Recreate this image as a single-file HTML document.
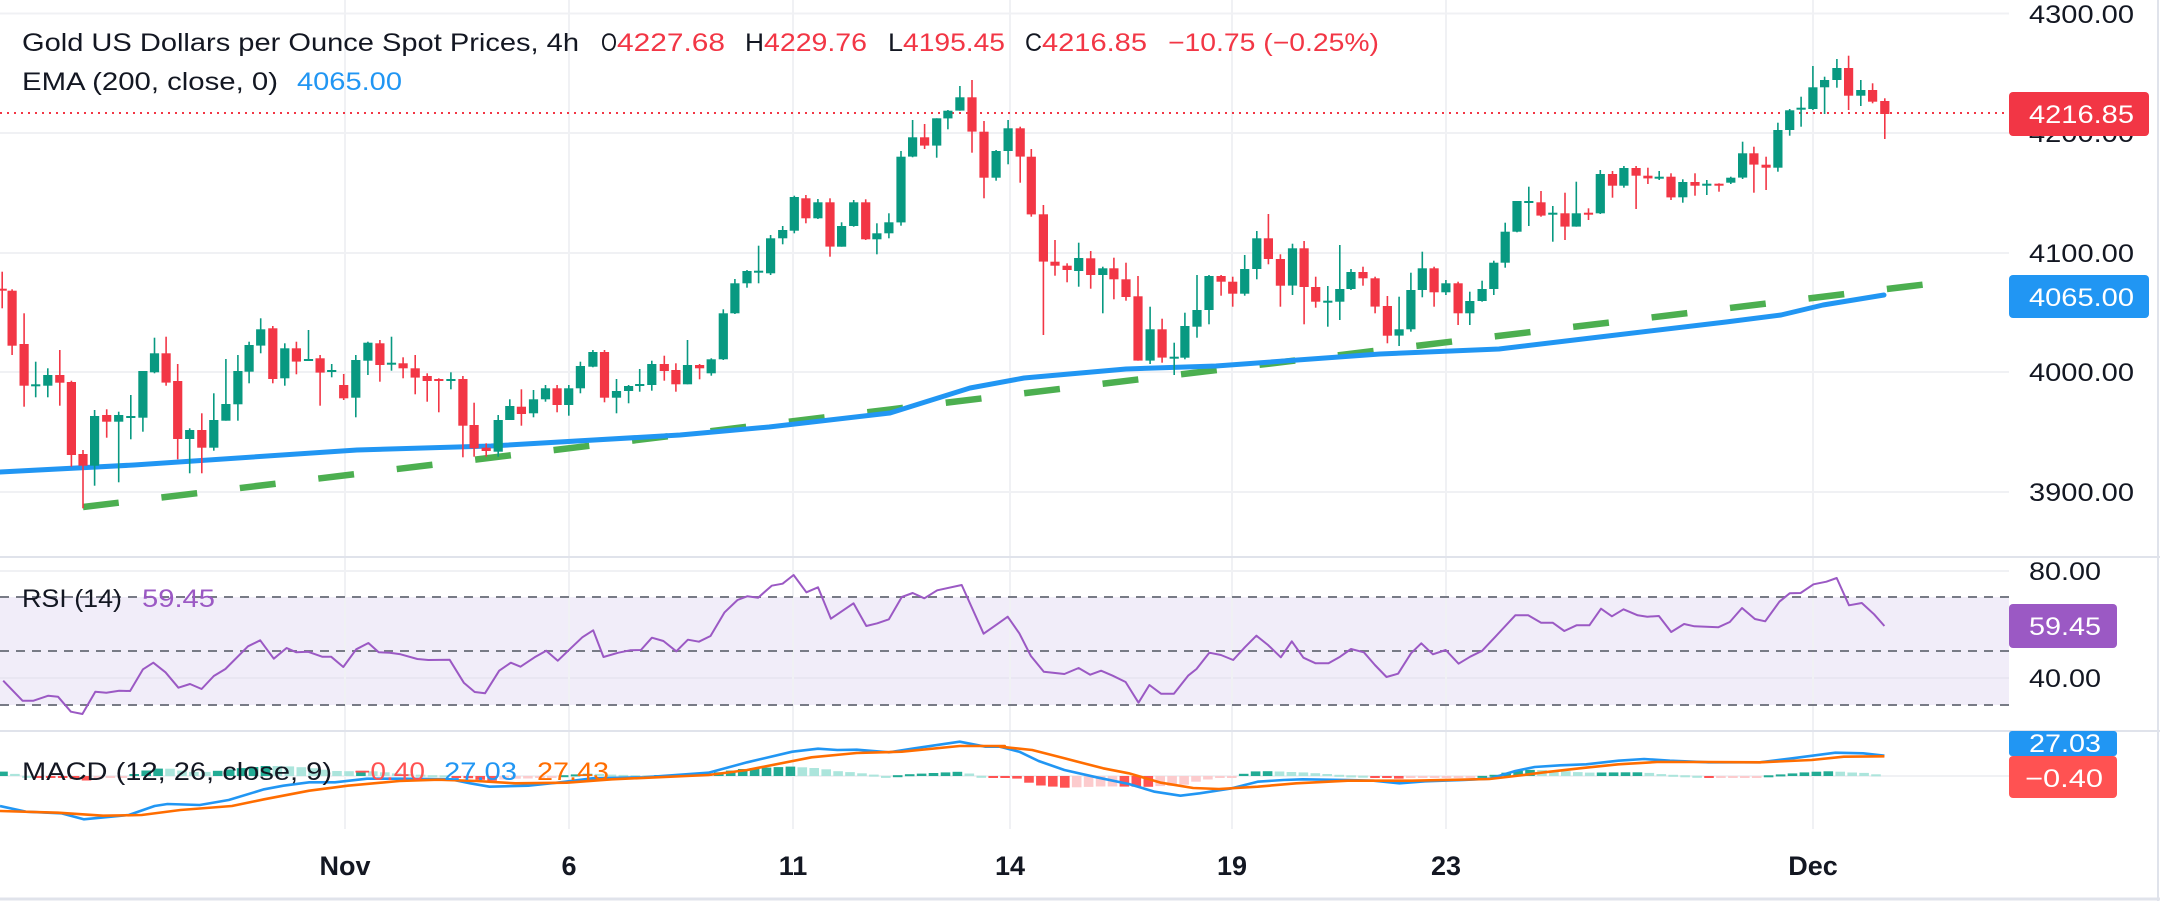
<!DOCTYPE html>
<html><head><meta charset="utf-8">
<style>
html,body{margin:0;padding:0;background:#fff;}
svg{display:block;}
text{font-family:"Liberation Sans","DejaVu Sans",sans-serif;}
</style></head>
<body>
<svg id="s" xmlns="http://www.w3.org/2000/svg" width="2160" height="901" viewBox="0 0 2160 901">
<rect x="0" y="0" width="2160" height="901" fill="#fff"/>
</svg>
<script>
(function(){
var S=document.getElementById('s');
var out='';
function L(x1,y1,x2,y2,c,w,extra){out+='<line x1="'+x1+'" y1="'+y1+'" x2="'+x2+'" y2="'+y2+'" stroke="'+c+'" stroke-width="'+w+'" '+(extra||'')+'/>';}
function R(x,y,w,h,c,extra){out+='<rect x="'+x+'" y="'+y+'" width="'+w+'" height="'+h+'" fill="'+c+'" '+(extra||'')+'/>';}
function T(x,y,s,c,txt,extra){out+='<text x="'+x+'" y="'+y+'" font-size="'+s+'" fill="'+c+'" '+(extra||'')+'>'+txt+'</text>';}
var PR=2009;
R(0,597,PR,108,'#f1edf9');
[13.5,133,253,372,492].forEach(function(y){L(0,y,PR,y,'#f0f1f4',2);});
L(0,571,PR,571,'#f0f1f4',2);L(0,678,PR,678,'#e9e6f2',2);L(0,776,PR,776,'#f0f1f4',2);
[345,569,793,1010,1232,1446,1813].forEach(function(x){L(x,0,x,829,'#f0f1f4',2);});
L(0,557,2160,557,'#e0e3eb',2);L(0,731,2160,731,'#e0e3eb',2);L(0,899,2160,899,'#e0e3eb',3);
L(2158,0,2158,901,'#e0e3eb',2);
[597,651,705].forEach(function(y){L(0,y,PR,y,'#787b86',2,'stroke-dasharray="9 7"');});
L(0,113,PR,113,'#f23645',2,'stroke-dasharray="2 5"');
L(83,507,1953,281,'#4caf50',6.5,'stroke-dasharray="36 43"');
var ema=[[0,472],[134,465],[357,450],[491,446],[680,435],[769,427],[890,413],[970,388],[1024,378],[1126,369],[1216,366],[1380,354],[1499,349],[1591,338],[1726,322],[1781,315],[1823,305],[1884,295]];
out+='<polyline points="'+ema.map(function(p){return p.join(',')}).join(' ')+'" fill="none" stroke="#2196f3" stroke-width="5" stroke-linejoin="round" stroke-linecap="round"/>';

var secs=[
{x0:0,sx:2.24,y0:60,d:[[5,686,692,635,745],[27,692,857,688,885],[54,852,977,760,1040],[80,973,973,905,1012],[107,977,945,925,1012],[134,945,968,870,1037],[160,966,1185,962,1220],[186,1182,1217,1170,1345],[212,1217,1068,1050,1277],[239,1065,1085,1048,1133],[266,1085,1065,1055,1267],[293,1068,1068,1005,1138],[320,1073,933,933,1115],[346,937,880,833,940],[372,880,968,830,977],[398,963,1137,912,1198],[425,1137,1110,1105,1240],[452,1110,1163,1060,1240],[479,1163,1080,1000,1172],[506,1082,1032,897,1082],[533,1033,933,885,1082],[558,935,855,845,970],[584,857,808,775,880],[611,805,957,798,970],[638,955,865,850,977],[664,865,905,845,943],[691,903,897,810,903],[717,895,938,885,1037],[743,930,930,912,952],[770,975,1015,942,1020],[797,1013,900,885,1072],[824,902,848,845,945],[851,850,915,840,965],[877,908,908,830,932],[903,910,925,892,955],[930,925,953,885,1003],[957,948,963,940,1025],[983,957,960,955,1057],[1010,957,957,937,988],[1037,957,1097,948,1192],[1062,1095,1165,1028,1190],[1089,1163,1173,1150,1190],[1116,1175,1080,1065,1190],[1142,1080,1038,1018,1080],[1168,1040,1062,988,1097],[1195,1060,1018,990,1072],[1222,1018,985,975,1025],[1248,985,1035,975,1057],[1274,1035,985,975,1067],[1300,985,918,905,1000],[1328,920,876,870,922],[1354,876,1013,870,1027],[1381,1013,993,957,1060],[1408,993,978,975,1030],[1433,972,972,927,995],[1460,975,912,902,992],[1488,912,933,887,962],[1514,930,973,910,995],[1540,973,915,840,973]]},
{x0:680,sx:2.24,y0:60,d:[[44,915,925,912,958],[70,940,898,895,947],[97,898,760,748,900],[123,760,670,657,762],[150,670,633,630,683],[176,632,632,557,670],[203,640,535,525,645],[230,535,510,498,553],[256,512,411,407,520],[282,415,475,405,490],[309,475,427,417,477],[336,427,560,415,590],[362,560,498,487,560],[389,498,427,420,500],[416,427,538,418,540],[441,538,520,490,583],[468,520,487,460,535],[495,487,290,273,497],[521,290,232,180,292],[548,232,257,192,267],[575,257,175,175,293],[600,175,152,150,208],[627,152,112,78,152],[654,112,215,60,278],[681,215,353,183,415],[708,353,273,270,362],[735,273,205,180,313],[762,205,290,200,368],[787,290,463,267,470],[814,463,605,435,825],[840,605,617,540,647],[867,617,630,610,667],[893,633,594,548,680],[920,595,645,573,686],[947,645,625,620,760],[972,625,658,593,718],[999,658,711,608,722],[1026,709,902,648,902],[1053,902,808,740,912],[1080,808,893,776,908],[1107,890,890,848,945],[1131,893,798,758,898],[1158,800,750,645,833],[1185,750,648,645,793],[1212,648,665,645,707],[1238,665,701,650,740],[1265,701,627,585,707],[1292,627,535,513,658],[1318,535,597,462,613],[1345,597,677,583,740],[1372,677,565,551,705],[1398,565,681,543,793],[1424,681,725,650,743],[1451,722,722,678,800],[1478,725,687,555,780],[1503,687,636,627,690],[1530,636,655,620,677],[1557,655,740,650,760]]},
{x0:1360,sx:2.376,y0:40,d:[[65,798,887,768,910],[93,887,868,770,918],[121,868,750,698,875],[148,750,685,635,772],[176,685,757,680,800],[204,757,730,720,765],[233,730,820,725,855],[261,820,783,755,855],[290,783,747,722,785],[318,747,668,662,765],[345,668,575,548,683],[373,575,483,483,577],[401,483,483,440,558],[430,487,527,453,530],[458,518,518,498,605],[487,520,560,458,600],[514,560,520,425,560],[543,518,520,505,540],[571,520,402,390,522],[600,402,437,393,473],[627,437,384,378,443],[656,384,407,378,507],[684,407,415,383,432],[711,410,410,393,420],[739,410,472,400,480],[767,472,426,418,488],[796,426,437,400,467],[824,431,431,420,465],[853,431,432,430,455],[881,428,413,410,432],[909,413,340,305,417],[936,340,374,320,458],[965,374,383,350,450],[993,383,270,248,395],[1021,270,211,207,287],[1048,203,203,170,260],[1076,207,142,78,210],[1104,142,120,110,222],[1133,120,84,57,143],[1161,84,167,47,210],[1190,167,150,120,198],[1218,150,185,130,190],[1247,183,222,175,297]]}
];
secs.forEach(function(s){s.d.forEach(function(c){
 var x=s.x0+c[0]/s.sx, o=s.y0+c[1]/3, cl=s.y0+c[2]/3, h=s.y0+c[3]/3, l=s.y0+c[4]/3;
 var col=(cl>o)?'#f23645':'#089981';
 L(x.toFixed(1),h.toFixed(1),x.toFixed(1),l.toFixed(1),col,1.6);
 var t=Math.min(o,cl), bh=Math.max(Math.abs(o-cl),2);
 R((x-4.6).toFixed(1),t.toFixed(1),9.2,bh.toFixed(1),col);
});});

function tr(arr,x0){return arr.map(function(p){return (x0+p[0]/1.5525).toFixed(1)+','+(550+p[1]/3).toFixed(1);});}
var r6=[[5,392],[35,452],[52,452],[75,437],[90,440],[110,485],[128,492],[148,425],[165,428],[185,422],[202,423],[222,358],[238,338],[257,367],[277,413],[295,402],[313,417],[332,378],[350,357],[385,289],[404,271],[425,326],[445,294],[460,307],[478,305],[500,320],[514,320],[533,351],[553,298],[572,279],[588,307],[605,308],[622,313],[648,327],[665,330],[698,329],[720,398],[737,426],[753,430],[775,362],[793,338],[808,350],[830,322],[848,302],[866,332],[886,295],[904,262],[921,241],[937,321],[960,308],[978,301],[995,300],[1012,263],[1030,273],[1050,304],[1068,269],[1085,275],[1103,258],[1125,187],[1145,150],[1160,139],[1177,143],[1198,107],[1215,101],[1232,75],[1252,127],[1270,112],[1290,206],[1325,160],[1345,228],[1362,220],[1380,208],[1400,141],[1417,129],[1435,145],[1455,121],[1493,105],[1527,251],[1550,220]];
var r7=[[12,200],[30,250],[48,318],[68,365],[100,372],[122,354],[140,374],[157,362],[175,377],[195,396],[215,458],[232,405],[250,431],[270,431],[292,377],[305,357],[325,308],[343,315],[362,330],[380,292],[398,257],[416,285],[436,322],[453,274],[471,323],[490,340],[510,340],[528,320],[545,297],[565,307],[582,345],[600,381],[618,371],[638,310],[654,280],[672,313],[692,300],[712,341],[730,320],[748,303],[770,258],[800,196],[820,196],[840,218],[858,218],[876,243],[895,226],[915,226],[933,176],[950,199],[968,178],[990,196],[1005,200],[1023,198],[1042,246],[1062,222],[1078,229],[1115,232],[1133,216],[1152,174],[1172,207],[1188,214],[1210,155],[1226,130],[1243,129],[1263,103],[1283,95],[1299,84],[1318,166],[1338,159],[1357,193],[1373,228]];
out+='<polyline points="'+tr(r6,0).concat(tr(r7,1000)).join(' ')+'" fill="none" stroke="#9b59c4" stroke-width="2" stroke-linejoin="round"/>';

var b6=[[0,768],[40,785],[95,790],[130,808],[200,795],[240,768],[260,762],[310,765],[355,750],[410,718],[440,707],[480,697],[520,697],[570,686],[620,686],[700,688],[730,700],[760,710],[820,707],[870,697],[920,685],[1000,682],[1100,668],[1160,637],[1230,605],[1270,596],[1300,600],[1330,599],[1380,607],[1420,595],[1490,575],[1530,590]];
var b7=[[0,590],[30,605],[60,633],[100,660],[150,682],[200,702],[240,725],[280,737],[310,730],[360,715],[400,695],[440,690],[470,688],[540,690],[580,692],[620,700],[660,694],[720,690],[760,686],[800,663],[830,651],[870,646],[910,643],[960,632],[1000,627],[1040,632],[1100,637],[1180,637],[1230,625],[1297,608],[1340,610],[1373,617]];
var o6=[[0,783],[90,788],[160,797],[220,795],[280,780],[360,768],[410,748],[480,722],[540,707],[620,693],[680,689],[740,693],[800,700],[880,698],[950,688],[1100,675],[1160,660],[1260,622],[1330,609],[1400,605],[1490,588],[1560,588]];
var o7=[[0,590],[50,600],[100,625],[160,655],[200,670],[250,698],[300,714],[340,717],[400,710],[460,700],[540,692],[640,692],[760,687],[800,678],[840,668],[900,655],[960,643],[1020,636],[1100,636],[1180,637],[1260,630],[1310,620],[1373,619]];
function full(a6,a7){return a6.map(function(p){return [p[0]/1.5525,550+p[1]/3];}).concat(a7.map(function(p){return [1000+p[0]/1.5525,550+p[1]/3];}));}
var B=full(b6,b7),O=full(o6,o7);
function interp(A,x){for(var i=1;i<A.length;i++){if(A[i][0]>=x){var a=A[i-1],b=A[i];var t=(x-a[0])/(b[0]-a[0]||1);return a[1]+t*(b[1]-a[1]);}}return A[A.length-1][1];}
var prev=0;
for(var x=3;x<=1886;x+=11.93){
 var h=(interp(O,x)-interp(B,x));
 var col;
 if(h>=0){col=(h>=prev)?'#22ab94':'#ace5dc';}else{col=(h<=prev)?'#ff5252':'#fccbcd';}
 prev=h;
 var y=h>=0?776-h:776; var hh=Math.max(Math.abs(h),2);
 R((x-4.8).toFixed(1),y.toFixed(1),9.6,hh.toFixed(1),col);
}
out+='<polyline points="'+B.map(function(p){return p[0].toFixed(1)+','+p[1].toFixed(1)}).join(' ')+'" fill="none" stroke="#2196f3" stroke-width="2.6" stroke-linejoin="round"/>';
out+='<polyline points="'+O.map(function(p){return p[0].toFixed(1)+','+p[1].toFixed(1)}).join(' ')+'" fill="none" stroke="#ff6d00" stroke-width="2.6" stroke-linejoin="round"/>';

var A='lengthAdjust="spacingAndGlyphs"';
out+='<text y="51" font-size="25" fill="#131722"><tspan x="22" textLength="557" '+A+'>Gold US Dollars per Ounce Spot Prices, 4h</tspan>'+
'<tspan x="601" textLength="16" '+A+'>O</tspan><tspan x="617" fill="#f23645" textLength="108" '+A+'>4227.68</tspan>'+
'<tspan x="745" textLength="19" '+A+'>H</tspan><tspan x="764" fill="#f23645" textLength="103" '+A+'>4229.76</tspan>'+
'<tspan x="888" textLength="15" '+A+'>L</tspan><tspan x="903" fill="#f23645" textLength="102" '+A+'>4195.45</tspan>'+
'<tspan x="1025" textLength="17" '+A+'>C</tspan><tspan x="1042" fill="#f23645" textLength="105" '+A+'>4216.85</tspan>'+
'<tspan x="1168" fill="#f23645" textLength="211" '+A+'>−10.75 (−0.25%)</tspan></text>';
out+='<text y="90" font-size="25" fill="#131722"><tspan x="22" textLength="256" '+A+'>EMA (200, close, 0)</tspan><tspan x="297" fill="#2196f3" textLength="105" '+A+'>4065.00</tspan></text>';
out+='<text y="607" font-size="25" fill="#131722"><tspan x="22" textLength="100" '+A+'>RSI (14)</tspan><tspan x="142" fill="#9b59c4" textLength="73" '+A+'>59.45</tspan></text>';
out+='<text y="780" font-size="25" fill="#131722"><tspan x="22" textLength="310" '+A+'>MACD (12, 26, close, 9)</tspan><tspan x="354" fill="#ff5252" textLength="71" '+A+'>−0.40</tspan><tspan x="444" fill="#2196f3" textLength="73" '+A+'>27.03</tspan><tspan x="537" fill="#ff6d00" textLength="72" '+A+'>27.43</tspan></text>';

function AL(y,t,w){T(2029,y,25,'#131722',t,'textLength="'+w+'" '+A);}
AL(23,'4300.00',105);AL(142,'4200.00',105);AL(262,'4100.00',105);AL(381,'4000.00',105);AL(501,'3900.00',105);
AL(580,'80.00',72);AL(687,'40.00',72);
R(2009,92,140,44,'#f23645','rx="4"');T(2029,123,25,'#fff','4216.85','textLength="105" '+A);
R(2009,275,140,43,'#2196f3','rx="4"');T(2029,306,25,'#fff','4065.00','textLength="105" '+A);
R(2009,604,108,44,'#9b59c4','rx="4"');T(2029,635,25,'#fff','59.45','textLength="72" '+A);
R(2009,731,108,25,'#2196f3','rx="3"');T(2029,752,25,'#fff','27.03','textLength="72" '+A);
R(2009,756,108,42,'#ff5252','rx="4"');T(2025,787,25,'#fff','−0.40','textLength="78" '+A);

[[345,'Nov'],[569,'6'],[793,'11'],[1010,'14'],[1232,'19'],[1446,'23'],[1813,'Dec']].forEach(function(a){
 T(a[0],875,27,'#131722',a[1],'text-anchor="middle" font-weight="bold"');
});
S.innerHTML+=out;
})();
</script>
</body></html>
